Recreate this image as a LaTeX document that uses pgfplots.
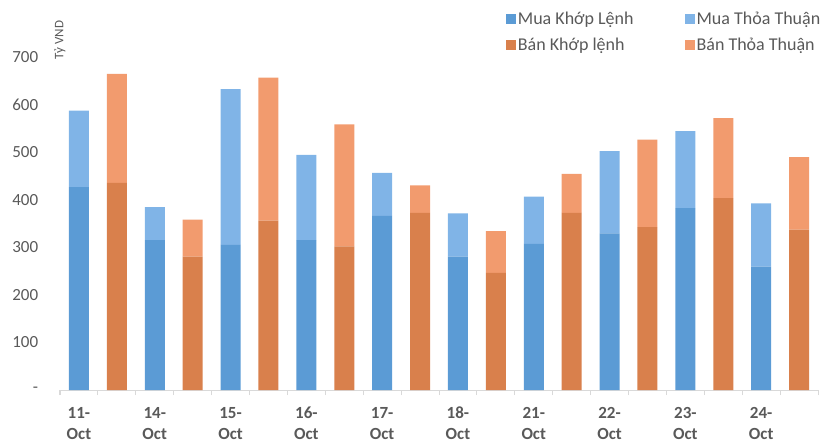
\documentclass[border=0pt]{standalone}
\usepackage{pgfplots}
\pgfplotsset{compat=1.18}
\usepackage{fontspec}
\setmainfont{Carlito}
\definecolor{muak}{HTML}{5B9BD5}
\definecolor{muat}{HTML}{80B4E7}
\definecolor{bank}{HTML}{D9804C}
\definecolor{bant}{HTML}{F29B6E}
\definecolor{txt}{HTML}{595959}
\definecolor{axl}{HTML}{D9D9D9}
\newcommand{\tl}[1]{\rule{0pt}{13pt}#1-\\\rule{0pt}{13pt}Oct}
\begin{document}
\begin{tikzpicture}
\path[use as bounding box] (0,0) rectangle (825pt,-441pt);
\begin{axis}[
  at={(60pt,-390pt)}, anchor=south west,
  scale only axis, width=758pt, height=357pt,
  xmin=-0.5, xmax=19.5, ymin=0, ymax=750,
  ybar stacked, bar width=20pt,
  clip=false,
  axis lines*=left,
  y axis line style={draw=none},
  x axis line style={draw=axl, line width=1pt},
  ytick={0,100,200,300,400,500,600,700},
  yticklabels={{-\hspace{9pt}},100,200,300,400,500,600,700},
  ytick style={draw=none},
  yticklabel style={font=\fontsize{17}{20}\selectfont, text=txt, xshift=-14pt},
  xtick={0,2,4,6,8,10,12,14,16,18},
  xticklabels={{\tl{11}},{\tl{14}},{\tl{15}},{\tl{16}},{\tl{17}},{\tl{18}},{\tl{21}},{\tl{22}},{\tl{23}},{\tl{24}}},
  xtick style={draw=none},
  minor xtick={-0.5,0.5,...,19.5},
  minor x tick style={draw=axl, line width=1pt},
  minor tick length=5pt,
  tick align=outside,
  xticklabel style={font=\fontsize{17}{21}\selectfont\bfseries, text=txt, align=center, anchor=north, yshift=-8pt},
  legend columns=2,
  legend cell align=left,
  legend image code/.code={\path[#1, draw=none] (0pt,-5pt) rectangle (10pt,5pt);},
  legend style={at={(rel axis cs:0.584,1.07)}, anchor=north west, draw=none, fill=none,
    font=\fontsize{18}{21}\selectfont, text=txt, row sep=8pt,
    /tikz/every even column/.append style={column sep=49pt}},
]
\addplot[fill=muak, draw=none] coordinates {(0,426) (1,0) (2,315) (3,0) (4,305) (5,0) (6,315) (7,0) (8,366) (9,0) (10,280) (11,0) (12,307) (13,0) (14,329) (15,0) (16,382) (17,0) (18,259) (19,0)};
\addlegendentry{Mua Khớp Lệnh}
\addplot[fill=muat, draw=none] coordinates {(0,161) (1,0) (2,69) (3,0) (4,327) (5,0) (6,179) (7,0) (8,90) (9,0) (10,91) (11,0) (12,99) (13,0) (14,173) (15,0) (16,162) (17,0) (18,133) (19,0)};
\addlegendentry{Mua Thỏa Thuận}
\addplot[fill=bank, draw=none] coordinates {(0,0) (1,435) (2,0) (3,280) (4,0) (5,356) (6,0) (7,302) (8,0) (9,372) (10,0) (11,246) (12,0) (13,372) (14,0) (15,342) (16,0) (17,403) (18,0) (19,337)};
\addlegendentry{Bán Khớp lệnh}
\addplot[fill=bant, draw=none] coordinates {(0,0) (1,229) (2,0) (3,78) (4,0) (5,300) (6,0) (7,256) (8,0) (9,58) (10,0) (11,88) (12,0) (13,82) (14,0) (15,184) (16,0) (17,168) (18,0) (19,152)};
\addlegendentry{Bán Thỏa Thuận}
\node[rotate=90, font=\fontsize{13}{15}\selectfont, text=txt, xshift=-2pt] at (rel axis cs:0,0.986) {Tỷ VND};
\end{axis}
\end{tikzpicture}
\end{document}
